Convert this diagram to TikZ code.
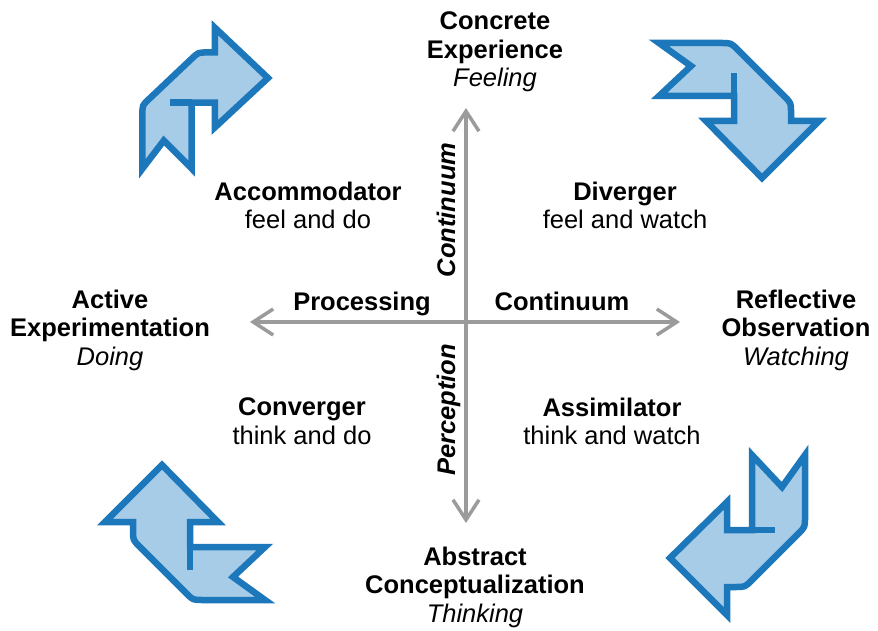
\documentclass[tikz,border=0pt]{standalone}
\usepackage{fontspec}
\setmainfont{Liberation Sans}
\usepackage{tikz}
\usetikzlibrary{arrows.meta}
\definecolor{ribbonline}{HTML}{1D77BB}
\definecolor{ribbonfill}{HTML}{A6CCE8}
\definecolor{axisgray}{HTML}{9B9B9B}
\newcommand{\lblsize}{\fontsize{25.5}{28.5}\selectfont}
\newcommand{\ribbonpath}{(0,0) -- (56,-57) -- (28,-57) -- (28,-82) -- (103,-82) -- (71,-112) -- (103,-135) -- (40,-135) .. controls (31,-135) .. (24,-128) -- (-22,-82) .. controls (-29,-75) .. (-29,-66) -- (-29,-57) -- (-57,-57) -- cycle}

\begin{document}
\begin{tikzpicture}[x=1pt, y=1pt,
    ribbon/.style={draw=ribbonline, fill=ribbonfill, line width=6.5pt, line join=miter},
    fold/.style={draw=ribbonline, line width=6.5pt},
    axis/.style={draw=axisgray, line width=3.5pt,
        {Straight Barb[length=20pt,width=26pt]}-{Straight Barb[length=20pt,width=26pt]}},
    every node/.style={inner sep=0pt, font=\lblsize},
    pole/.style={align=center, anchor=north},
    axislabel/.style={anchor=base, font=\lblsize\bfseries}
    ]
    \fill[white] (0,0) rectangle (878,630);
    \useasboundingbox (0,0) rectangle (878,630);

    % Ribbons.
    \foreach \px/\py/\rot/\sx/\sy in {162/165/0/1/1, 762/452/180/1/1, 670/72/90/1/1, 268/552/-90/.88/.93}
    {
        \begin{scope}[shift={(\px,\py)}, rotate=\rot, xscale=\sx, yscale=\sy]
            \draw[ribbon] \ribbonpath;
            \draw[fold] (28,-82) -- (28,-105);
        \end{scope}
    }

    % Axes.
    \coordinate (o)    at (466,308);
    \coordinate (up)   at (466,522);
    \coordinate (down) at (466,107);
    \coordinate (lt)   at (250,308);
    \coordinate (rt)   at (680,308);
    \draw[axis] (down) -- (up);
    \draw[axis] (lt) -- (rt);

    \node[axislabel] (proc) at (362,319) {Processing};
    \node[axislabel] (cont) at (562,319) {Continuum};
    \node[axislabel, rotate=90, font=\lblsize\bfseries\itshape] (contv) at (455,420) {Continuum};
    \node[axislabel, rotate=90, font=\lblsize\bfseries\itshape] (perc)  at (455,220) {Perception};

    % Poles.
    \node[pole] (concrete)   at (495,618.5) {\textbf{Concrete}\\\textbf{Experience}\\\textit{Feeling}};
    \node[pole] (active)     at (110,340.5) {\textbf{Active}\\\textbf{Experimentation}\\\textit{Doing}};
    \node[pole] (reflective) at (796,340.5) {\textbf{Reflective}\\\textbf{Observation}\\\textit{Watching}};
    \node[pole] (abstract)   at (475,83.5)  {\textbf{Abstract}\\\textbf{Conceptualization}\\\textit{Thinking}};

    % Styles.
    \node[pole] (accom)     at (308,448.5) {\textbf{Accommodator}\\feel and do};
    \node[pole] (diverger)  at (625,448.5) {\textbf{Diverger}\\feel and watch};
    \node[pole] (converger) at (302,232.5) {\textbf{Converger}\\think and do};
    \node[pole] (assim)     at (612,232.5) {\textbf{Assimilator}\\think and watch};
\end{tikzpicture}
\end{document}
